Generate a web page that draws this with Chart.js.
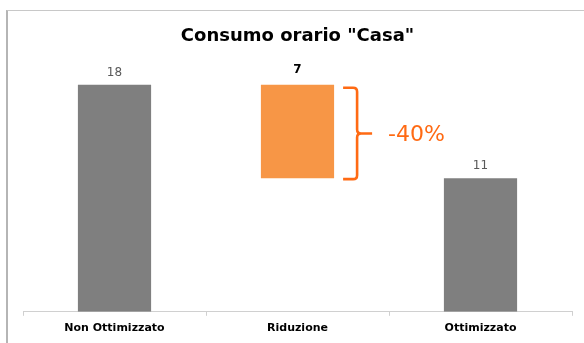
<!DOCTYPE html>
<html>
<head>
<meta charset="utf-8">
<script src="https://cdn.jsdelivr.net/npm/chart.js@4/dist/chart.umd.min.js"></script>
<style>
  body { margin: 0; background: #fff; }
  #frame {
    position: absolute; left: 6px; top: 10px;
    width: 578px; height: 333px;
    border-left: 2px solid #b5b5b5;
    border-top: 1px solid #c8c8c8;
  }
  canvas { display: block; }
</style>
</head>
<body>
<div id="frame"><canvas id="chart" width="576" height="332"></canvas></div>
<script>
'use strict'

// Chart data (bar heights, labels shown rounded)
const categories = ['Non Ottimizzato', 'Riduzione', 'Ottimizzato'];
const barStart = [0, 10.6, 0];
const barEnd = [18, 18, 10.6];
const reductionLabel = '-40%';

const barColors = ['#7f7f7f', '#f79646', '#7f7f7f'];
const braceColor = '#ff6a13';
const fontFamily = '"DejaVu Sans", sans-serif';

// Value labels above bars + brace with percentage
const annotations = {
    id: 'annotations',
    afterDatasetsDraw(chart) {
        const ctx = chart.ctx;
        const meta = chart.getDatasetMeta(0);
        const yScale = chart.scales.y;

        ctx.save();
        ctx.textAlign = 'center';
        ctx.textBaseline = 'alphabetic';
        meta.data.forEach((bar, i) => {
            const top = Math.min(bar.y, bar.base);
            const label = String(Math.round(barEnd[i] - barStart[i]));
            if (i === 1) {
                ctx.font = 'bold 12px ' + fontFamily;
                ctx.fillStyle = '#000';
                ctx.fillText(label, bar.x, top - 12);
            } else {
                ctx.font = '12px ' + fontFamily;
                ctx.fillStyle = '#595959';
                ctx.fillText(label, bar.x, top - 9);
            }
        });

        // brace next to the reduction bar
        const bar = meta.data[1];
        const x0 = bar.x + bar.width / 2 + 9;
        const xv = x0 + 14;
        const yT = yScale.getPixelForValue(barEnd[1]) + 3;
        const yB = yScale.getPixelForValue(barStart[1]) + 1;
        const yM = (yT + yB) / 2;
        const r = 4;

        ctx.strokeStyle = braceColor;
        ctx.lineWidth = 2.6;
        ctx.lineJoin = 'round';
        ctx.beginPath();
        ctx.moveTo(x0, yT);
        ctx.lineTo(xv - r, yT);
        ctx.quadraticCurveTo(xv, yT, xv, yT + r);
        ctx.lineTo(xv, yM - r);
        ctx.quadraticCurveTo(xv, yM, xv + r, yM);
        ctx.lineTo(xv + 15, yM);
        ctx.moveTo(xv + r, yM);
        ctx.quadraticCurveTo(xv, yM, xv, yM + r);
        ctx.lineTo(xv, yB - r);
        ctx.quadraticCurveTo(xv, yB, xv - r, yB);
        ctx.lineTo(x0, yB);
        ctx.stroke();

        ctx.font = '22px ' + fontFamily;
        ctx.fillStyle = braceColor;
        ctx.textAlign = 'left';
        ctx.textBaseline = 'middle';
        ctx.fillText(reductionLabel, xv + 31, yM + 2);
        ctx.restore();
    }
};

const ctx = document.getElementById('chart').getContext('2d');
const chart = new Chart(ctx, {
    type: 'bar',
    data: {
        labels: categories,
        datasets: [{
            data: categories.map((c, i) => [barStart[i], barEnd[i]]),
            backgroundColor: barColors,
            borderWidth: 0,
            barPercentage: 0.4,
            categoryPercentage: 1
        }]
    },
    options: {
        responsive: false,
        animation: false,
        layout: { padding: { left: 15, right: 12, top: 0, bottom: 2 } },
        plugins: {
            legend: { display: false },
            tooltip: { enabled: false },
            title: {
                display: true,
                text: 'Consumo orario "Casa"',
                color: '#000',
                font: { family: fontFamily, size: 18, weight: 'bold' },
                padding: { top: 15, bottom: 12 }
            }
        },
        scales: {
            x: {
                grid: {
                    offset: true,
                    drawOnChartArea: false,
                    tickLength: 4,
                    color: '#d0d0d0'
                },
                border: { color: '#d0d0d0', width: 1 },
                ticks: {
                    color: '#000',
                    padding: 6,
                    font: { family: fontFamily, size: 11, weight: 'bold' }
                }
            },
            y: {
                display: false,
                min: 0,
                max: 20
            }
        }
    },
    plugins: [annotations]
});
</script>
</body>
</html>
